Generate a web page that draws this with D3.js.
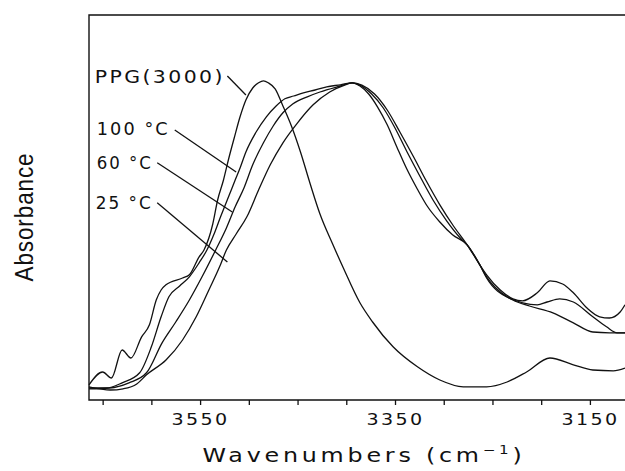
<!DOCTYPE html>
<html>
<head>
<meta charset="utf-8">
<script src="https://cdn.jsdelivr.net/npm/d3@7"></script>
<style>
  body { margin: 0; background: #fff; }
</style>
</head>
<body>
<div id="chart"></div>
<script>
ancho = 625;
alto = 471;

// wavenumber (cm-1) / absorbance (arb.)
var ppgWn  = [3664,3650,3641,3630,3621,3610,3602,3595,3590,3585,3568,3561,3551,3546,3537,3532,3526,3521,3515,3509,3503,3496,3490,3485,3480,3473,3465,3456,3447,3437,3427,3414,3403,3386,3373,3352,3327,3304,3280,3256,3235,3215,3191,3167,3147,3126,3114];
var ppgAbs = [0.038,0.070,0.055,0.125,0.105,0.158,0.188,0.250,0.275,0.288,0.305,0.313,0.358,0.375,0.440,0.500,0.550,0.600,0.655,0.708,0.750,0.780,0.793,0.798,0.793,0.778,0.735,0.683,0.620,0.540,0.465,0.390,0.330,0.243,0.195,0.133,0.083,0.050,0.033,0.033,0.045,0.070,0.105,0.088,0.075,0.073,0.080];

var t100Wn  = [3664,3646,3630,3612,3600,3590,3582,3571,3561,3551,3543,3536,3529,3520,3514,3509,3503,3493,3482,3472,3463,3454,3444,3432,3420,3406,3394,3386,3377,3368,3358,3348,3338,3327,3317,3304,3291,3276,3263,3256,3229,3212,3188,3167,3147,3130,3114];
var t100Abs = [0.030,0.030,0.043,0.068,0.133,0.208,0.258,0.285,0.308,0.343,0.375,0.413,0.458,0.513,0.550,0.580,0.620,0.668,0.708,0.735,0.753,0.760,0.768,0.775,0.783,0.788,0.793,0.785,0.765,0.733,0.688,0.632,0.578,0.527,0.485,0.445,0.413,0.388,0.338,0.305,0.250,0.235,0.218,0.193,0.170,0.168,0.168];

var t60Wn  = [3664,3643,3623,3605,3589,3575,3561,3548,3534,3523,3514,3505,3496,3485,3475,3465,3455,3440,3427,3406,3394,3385,3374,3362,3350,3338,3325,3311,3297,3283,3276,3263,3256,3235,3219,3204,3194,3181,3167,3147,3133,3122,3114];
var t60Abs = [0.028,0.030,0.043,0.068,0.143,0.195,0.250,0.308,0.375,0.430,0.483,0.530,0.588,0.643,0.685,0.718,0.740,0.758,0.770,0.785,0.793,0.786,0.765,0.730,0.680,0.622,0.562,0.500,0.448,0.405,0.388,0.338,0.308,0.258,0.243,0.238,0.245,0.253,0.245,0.208,0.183,0.168,0.168];

var t25Wn  = [3664,3653,3642,3629,3615,3605,3585,3568,3554,3541,3530,3523,3513,3502,3490,3478,3465,3450,3434,3417,3401,3394,3384,3371,3358,3345,3331,3318,3304,3290,3276,3263,3256,3242,3229,3219,3204,3191,3178,3167,3153,3140,3130,3119,3114];
var t25Abs = [0.033,0.028,0.025,0.028,0.040,0.063,0.100,0.150,0.208,0.275,0.333,0.375,0.415,0.458,0.525,0.588,0.643,0.693,0.738,0.770,0.788,0.793,0.787,0.765,0.725,0.670,0.608,0.548,0.488,0.435,0.388,0.338,0.313,0.275,0.253,0.248,0.268,0.298,0.290,0.268,0.230,0.208,0.205,0.220,0.238];

var xTicks = [3650,3600,3550,3500,3450,3400,3350,3300,3250,3200,3150];
var xTickLabels = [3550, 3350, 3150];

var nombres = ["PPG(3000)", "100 \u00B0C", "60 \u00B0C", "25 \u00B0C"];

var series = [
  {wn: ppgWn, ab: ppgAbs},
  {wn: t100Wn, ab: t100Abs},
  {wn: t60Wn, ab: t60Abs},
  {wn: t25Wn, ab: t25Abs}
];

var svg = d3.select("#chart")
    .append("svg")
    .attr("width", ancho)
    .attr("height", alto);

var x = d3.scaleLinear().domain([3664, 3114]).range([89, 625]);
var y = d3.scaleLinear().domain([0, 0.9625]).range([400, 15]);

// frame (no right edge visible)
svg.append("path")
    .attr("d", "M625,15H89V400H625")
    .attr("fill", "none")
    .attr("stroke", "#111")
    .attr("stroke-width", 1.4);

var eje = svg.append("g")
    .attr("transform", "translate(0,400)")
    .call(d3.axisBottom(x)
        .tickValues(xTicks)
        .tickSize(5)
        .tickSizeOuter(0)
        .tickFormat(function(d){ return xTickLabels.indexOf(d) >= 0 ? d : ""; }));
eje.select(".domain").remove();
eje.selectAll(".tick line").attr("stroke", "#111").attr("stroke-width", 1.3);
eje.selectAll(".tick text")
    .attr("y", 25).attr("dy", 0)
    .attr("fill", "#111")
    .attr("font-family", "DejaVu Sans")
    .attr("font-size", "16px")
    .attr("letter-spacing", "2px")
    .attr("textLength", function(d){ return xTickLabels.indexOf(d) >= 0 ? 58 : null; })
    .attr("lengthAdjust", "spacingAndGlyphs");

var linea = d3.line()
    .x(function(d){ return x(d[0]); })
    .y(function(d){ return y(d[1]); })
    .curve(d3.curveMonotoneX);

svg.append("g")
    .selectAll("path")
    .data(series)
    .enter()
    .append("path")
    .attr("d", function(s){ return linea(d3.zip(s.wn, s.ab)); })
    .attr("fill", "none")
    .attr("stroke", "#111")
    .attr("stroke-width", 1.3);

// labels with leader lines, placed in data units
var notas = [
  {tx: 3658, ty: 0.7925, len: 130, x1: 3522, y1: 0.810, x2: 3503, y2: 0.7625},
  {tx: 3656, ty: 0.6625, len: 73,  x1: 3576, y1: 0.675, x2: 3513, y2: 0.570},
  {tx: 3656, ty: 0.5775, len: 56,  x1: 3594, y1: 0.593, x2: 3517, y2: 0.470},
  {tx: 3657, ty: 0.4775, len: 57,  x1: 3594, y1: 0.493, x2: 3522, y2: 0.345}
];

svg.selectAll(".nota")
    .data(notas)
    .enter()
    .append("text")
    .attr("class", "nota")
    .text(function(d,i){ return nombres[i]; })
    .attr("x", function(d){ return x(d.tx); })
    .attr("y", function(d){ return y(d.ty); })
    .attr("font-family", "DejaVu Sans")
    .attr("font-size", "17px")
    .attr("letter-spacing", "2px")
    .attr("textLength", function(d){ return d.len; })
    .attr("lengthAdjust", "spacingAndGlyphs")
    .attr("fill", "#111");

svg.selectAll(".guia")
    .data(notas)
    .enter()
    .append("line")
    .attr("class", "guia")
    .attr("x1", function(d){ return x(d.x1); })
    .attr("y1", function(d){ return y(d.y1); })
    .attr("x2", function(d){ return x(d.x2); })
    .attr("y2", function(d){ return y(d.y2); })
    .attr("stroke", "#111")
    .attr("stroke-width", 1.3);

// axis titles
var tx = svg.append("text")
    .attr("x", 364)
    .attr("y", 462)
    .attr("text-anchor", "middle")
    .attr("font-family", "DejaVu Sans")
    .attr("font-size", "19px")
    .attr("letter-spacing", "3px")
    .attr("textLength", 323)
    .attr("lengthAdjust", "spacingAndGlyphs")
    .attr("fill", "#111");
tx.append("tspan").text("Wavenumbers (cm");
tx.append("tspan").text("\u22121").attr("font-size", "12px").attr("dy", -8);
tx.append("tspan").text(")").attr("dy", 8);

svg.append("text")
    .attr("transform", "translate(33,217) rotate(-90)")
    .attr("text-anchor", "middle")
    .attr("font-family", "'Liberation Sans Narrow', 'Liberation Sans', sans-serif")
    .attr("font-size", "25px")
    .attr("letter-spacing", "1px")
    .attr("textLength", 129)
    .attr("lengthAdjust", "spacingAndGlyphs")
    .attr("fill", "#111")
    .text("Absorbance");
</script>
</body>
</html>
